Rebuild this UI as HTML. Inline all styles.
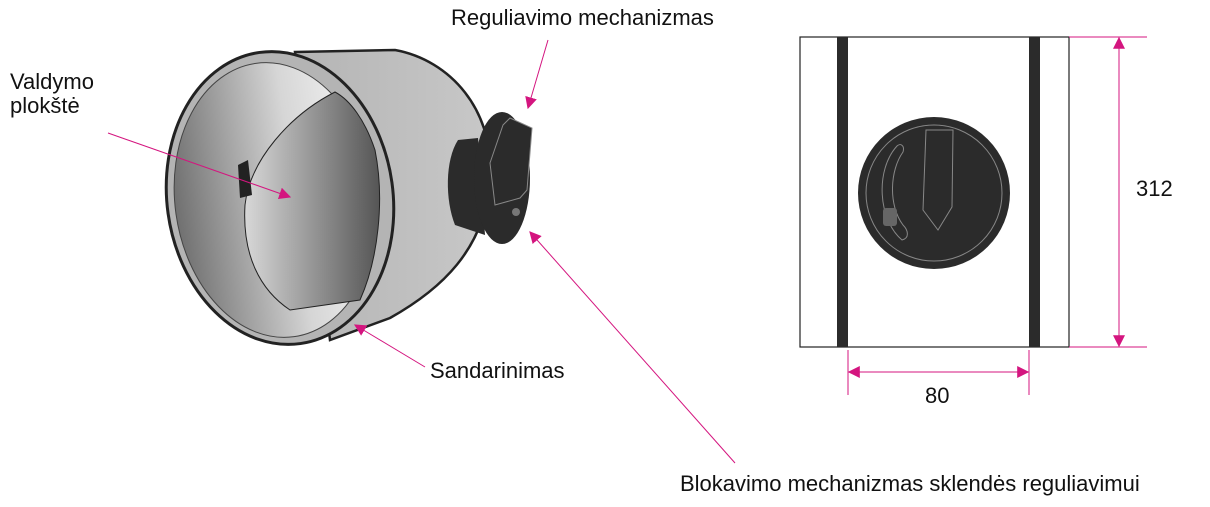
<!DOCTYPE html>
<html><head><meta charset="utf-8"><style>
body{margin:0;background:#fff;width:1210px;height:507px;overflow:hidden;font-family:"Liberation Sans",Arial,sans-serif}
svg{position:absolute;left:0;top:0}
</style></head><body>
<svg width="1210" height="507" viewBox="0 0 1210 507">
<defs>
<linearGradient id="bod" x1="0" x2="1"><stop offset="0" stop-color="#b4b4b4"/><stop offset="1" stop-color="#c8c8c8"/></linearGradient>
<linearGradient id="inr" x1="0" x2="1"><stop offset="0" stop-color="#707070"/><stop offset="0.6" stop-color="#d6d6d6"/><stop offset="1" stop-color="#f4f4f4"/></linearGradient>
<linearGradient id="bl" x1="0" x2="1"><stop offset="0" stop-color="#d8d8d8"/><stop offset="1" stop-color="#555"/></linearGradient>
<marker id="ah" viewBox="0 0 10 10" refX="9" refY="5" markerWidth="12" markerHeight="12" markerUnits="userSpaceOnUse" orient="auto-start-reverse"><path d="M0,0L10,5L0,10z" fill="#d4157f"/></marker>
</defs>
<path d="M295,52 L395,50 C450,60 495,110 490,180 C485,250 440,290 390,318 L330,340 Z" fill="url(#bod)" stroke="#222" stroke-width="2.5"/>
<ellipse cx="280" cy="198" rx="113" ry="147" transform="rotate(-8 280 198)" fill="#b4b4b4" stroke="#222" stroke-width="3"/>
<ellipse cx="275" cy="200" rx="100" ry="138" transform="rotate(-8 275 200)" fill="url(#inr)" stroke="#444" stroke-width="1"/>
<path d="M335,92 C290,115 250,160 245,205 C242,255 260,290 290,310 L360,300 C378,260 385,200 375,150 C365,120 350,100 335,92 Z" fill="url(#bl)" stroke="#222" stroke-width="1"/>
<path d="M238,165 L248,160 L252,195 L240,198 Z" fill="#222"/>
<path d="M458,140 L478,138 L485,235 L455,225 C445,200 445,160 458,140 Z" fill="#2b2b2b"/>
<ellipse cx="502" cy="178" rx="28" ry="66" fill="#2b2b2b"/>
<path d="M503,125 L510,118 L532,128 L527,190 L520,198 L495,205 L490,163 Z" fill="#2b2b2b" stroke="#888" stroke-width="1"/>
<circle cx="516" cy="212" r="4" fill="#777"/>
<rect x="800" y="37" width="269" height="310" fill="#fff" stroke="#222" stroke-width="1.2"/>
<rect x="837" y="37" width="11" height="310" fill="#2b2b2b"/>
<rect x="1029" y="37" width="11" height="310" fill="#2b2b2b"/>
<circle cx="934" cy="193" r="76" fill="#2b2b2b"/>
<circle cx="934" cy="193" r="68" fill="none" stroke="#888" stroke-width="1"/>
<path d="M926,130 L953,130 L952,207 L938,230 L923,210 Z" fill="none" stroke="#888"/>
<path d="M897,146 C875,170 878,220 902,240 C910,238 908,230 903,225 C888,205 890,170 903,152 C905,145 900,143 897,146 Z" fill="none" stroke="#888"/>
<rect x="883" y="208" width="14" height="18" rx="3" fill="#666"/>
<g stroke="#d4157f" stroke-width="1" fill="none">
<line x1="1069" y1="37" x2="1147" y2="37"/><line x1="1069" y1="347" x2="1147" y2="347"/>
<line x1="1119" y1="38" x2="1119" y2="346" marker-start="url(#ah)" marker-end="url(#ah)"/>
<line x1="848" y1="350" x2="848" y2="395"/><line x1="1029" y1="350" x2="1029" y2="395"/>
<line x1="849" y1="372" x2="1028" y2="372" marker-start="url(#ah)" marker-end="url(#ah)"/>
<line x1="108" y1="133" x2="290" y2="197" marker-end="url(#ah)"/>
<line x1="548" y1="40" x2="528" y2="108" marker-end="url(#ah)"/>
<line x1="425" y1="367" x2="355" y2="325" marker-end="url(#ah)"/>
<line x1="735" y1="463" x2="530" y2="232" marker-end="url(#ah)"/>
</g>
<g font-family="Liberation Sans,Arial,sans-serif" font-size="22" fill="#111">
<text x="451" y="25">Reguliavimo mechanizmas</text>
<text x="10" y="89">Valdymo</text>
<text x="10" y="113">plokštė</text>
<text x="430" y="378">Sandarinimas</text>
<text x="680" y="491">Blokavimo mechanizmas sklendės reguliavimui</text>
<text x="1136" y="196">312</text>
<text x="925" y="403">80</text>
</g>
</svg>
</body></html>
